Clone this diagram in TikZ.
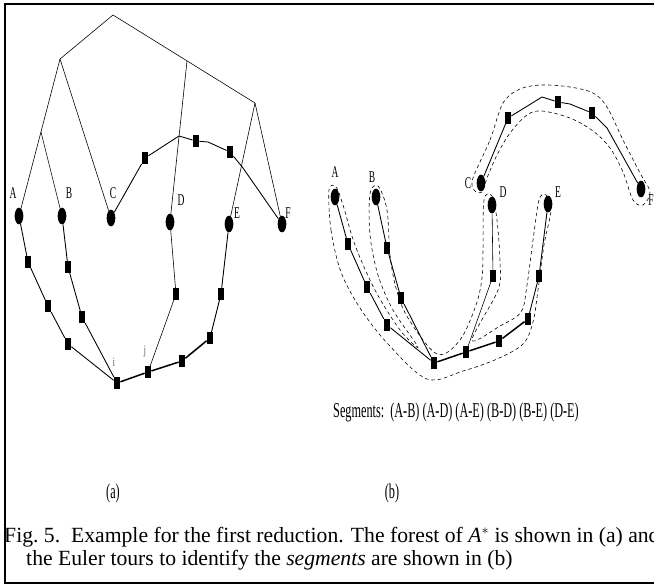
\documentclass[tikz,border=0pt]{standalone}
\usepackage{fontspec}
\setmainfont{Liberation Serif}
\newfontfamily\narrowfont[FakeStretch=0.58]{Liberation Serif}
\usetikzlibrary{shapes.geometric}

\tikzset{
  leaf/.style={ellipse, fill=black, inner sep=0pt, minimum width=0.26cm, minimum height=0.5cm},
  sq/.style={rectangle, fill=black, inner sep=0pt, minimum width=0.19cm, minimum height=0.35cm},
  lbl/.style={font=\narrowfont\fontsize{14}{14}\selectfont, inner sep=0pt},
  small/.style={font=\narrowfont\fontsize{11}{11}\selectfont, inner sep=0pt, text=black!70},
  sub/.style={font=\narrowfont\fontsize{18}{18}\selectfont, inner sep=0pt},
  tree/.style={line width=0.5pt},
  chain/.style={line width=0.75pt},
  base/.style={line width=1.3pt},
  tour/.style={line width=0.5pt, dash pattern=on 3pt off 2.5pt},
  captext/.style={font=\fontsize{18.5}{20}\selectfont, inner sep=0pt, anchor=base west},
}

\begin{document}
\begin{tikzpicture}[x=0.03cm, y=-0.03cm]
\useasboundingbox (0,0) rectangle (654,586);
\clip (0,0) rectangle (654,586);

% frame
\draw[line width=2.5pt] (700,4) -- (5,4) -- (5,583) -- (700,583);

% ---- (a) the forest ----
\coordinate (root) at (113,15);
\coordinate (lft) at (60,59);
\coordinate (rgt) at (255,103);
\coordinate (mid) at (187,61);
\coordinate (ab) at (41,132);

\node[leaf] (A) at (19,216) {};
\node[leaf] (B) at (62,216) {};
\node[leaf] (C) at (111,218) {};
\node[leaf] (D) at (170,222) {};
\node[leaf] (E) at (229,224) {};
\node[leaf] (F) at (282,224) {};

\node[lbl] (lA) at (13,193) {A};
\node[lbl] (lB) at (69,193) {B};
\node[lbl] (lC) at (113,193) {C};
\node[lbl] (lD) at (181,200) {D};
\node[lbl] (lE) at (237,213) {E};
\node[lbl] (lF) at (288,213) {F};

\draw[tree] (lft) -- (root) -- (rgt);
\draw[tree] (lft) -- (A);
\draw[tree] (ab) -- (B);
\draw[tree] (lft) -- (C);
\draw[tree] (mid) -- (D);
\draw[tree] (rgt) -- (E);
\draw[tree] (rgt) -- (F);

% upper chain C..F
\node[sq] (s1) at (145,158) {};
\coordinate (pk) at (179,136);
\node[sq] (s2) at (196,141) {};
\coordinate (k1) at (208,142);
\node[sq] (s3) at (230,152) {};
\coordinate (k2) at (243,168);
\draw[chain] (C) -- (s1) -- (pk) -- (s2) -- (k1) -- (s3) -- (k2) -- (F);

% lower chains
\node[sq] (a1) at (28,262) {};
\node[sq] (a2) at (48,306) {};
\node[sq] (a3) at (68,344) {};
\node[sq] (i) at (117,383) {};
\node[sq] (b1) at (68,267) {};
\node[sq] (b2) at (82,317) {};
\node[sq] (d1) at (176,294) {};
\node[sq] (j) at (148,372) {};
\node[sq] (e1) at (182,361) {};
\node[sq] (e2) at (210,338) {};
\node[sq] (e3) at (221,294) {};

\node[small] (li) at (114,362) {i};
\node[small] (lj) at (145,352) {j};

\draw[chain] (A) -- (a1) -- (a2) -- (a3) -- (i);
\draw[chain] (B) -- (b1) -- (b2) -- (i);
\draw[tree] (D) -- (d1) -- (j);
\draw[base] (i) -- (j) -- (e1) -- (e2);
\draw[chain] (e2) -- (e3) -- (E);

% ---- (b) the Euler tours ----
\node[leaf] (A2) at (335,197) {};
\node[leaf] (B2) at (376,197) {};
\node[leaf] (C2) at (481,183) {};
\node[leaf] (D2) at (492,205) {};
\node[leaf] (E2) at (548,204) {};
\node[leaf] (F2) at (641,189) {};

\node[lbl] (lA2) at (335,172) {A};
\node[lbl] (lB2) at (372,177) {B};
\node[lbl] (lC2) at (468,183) {C};
\node[lbl] (lD2) at (503,192) {D};
\node[lbl] (lE2) at (558,192) {E};
\node[lbl] (lF2) at (651,200) {F};

\node[sq] (p1) at (348,244) {};
\node[sq] (p2) at (367,287) {};
\node[sq] (p3) at (387,325) {};
\node[sq] (r) at (434,363) {};
\node[sq] (q1) at (387,248) {};
\node[sq] (q2) at (401,298) {};
\node[sq] (u1) at (493,276) {};
\node[sq] (jj) at (466,352) {};
\node[sq] (w1) at (499,341) {};
\node[sq] (w2) at (528,319) {};
\node[sq] (w3) at (539,276) {};

\node[sq] (t1) at (508,118) {};
\coordinate (tp) at (542,97);
\node[sq] (t2) at (558,102) {};
\coordinate (tk) at (570,104);
\node[sq] (t3) at (592,113) {};
\coordinate (tk2) at (607,128);

\draw[chain] (A2) -- (p1) -- (p2) -- (p3) -- (r);
\draw[chain] (B2) -- (q1) -- (q2) -- (r);
\draw[tree] (D2) -- (u1) -- (jj);
\draw[base] (r) -- (jj) -- (w1) -- (w2);
\draw[chain] (w2) -- (w3) -- (E2);
\draw[chain] (C2) -- (t1) -- (tp) -- (t2) -- (tk) -- (t3) -- (tk2) -- (F2);

% tour round the lower tree
\draw[tour] plot[smooth cycle, tension=0.55] coordinates {
  (329,190) (331,230) (341,272) (360,308) (388,344) (427,379) (463,371)
  (497,359) (523,344) (533,322) (538,290) (544,245) (551,210) (546,195)
  (539,200) (533,240) (527,285) (521,312) (500,326) (472,340)
  (498,290) (500,262) (497,220) (492,196) (484,200) (483,250) (482,278)
  (476,305) (460,340) (437,354)
  (408,318) (396,288) (390,255) (387,210) (378,186) (370,194) (370,235)
  (378,275) (393,310) (418,347)
  (400,330) (375,290) (355,245) (343,205) (336,187)};

% tour round the upper chain
\draw[tour] plot[smooth cycle, tension=0.55] coordinates {
  (473,178) (490,140) (503,103) (520,89) (542,85) (570,87) (593,93)
  (607,107) (623,140) (640,173) (650,192) (643,205) (633,200) (623,172)
  (610,148) (593,131) (570,118) (542,111) (527,115) (510,133) (497,155)
  (487,178) (482,192) (474,190)};

% ---- texts ----
\node[sub] (segs) at (456,412) {Segments:\ \ (A-B) (A-D) (A-E) (B-D) (B-E) (D-E)};
\node[sub] (capa) at (113,493) {(a)};
\node[sub] (capb) at (392,493) {(b)};
\node[captext] (cap1) at (4,542) {Fig.~5.\ \ Example for the first reduction. The forest of \textit{A}$^*$ is shown in (a) and};
\node[captext] (cap2) at (26,565) {the Euler tours to identify the \textit{segments} are shown in (b)};
\end{tikzpicture}
\end{document}
